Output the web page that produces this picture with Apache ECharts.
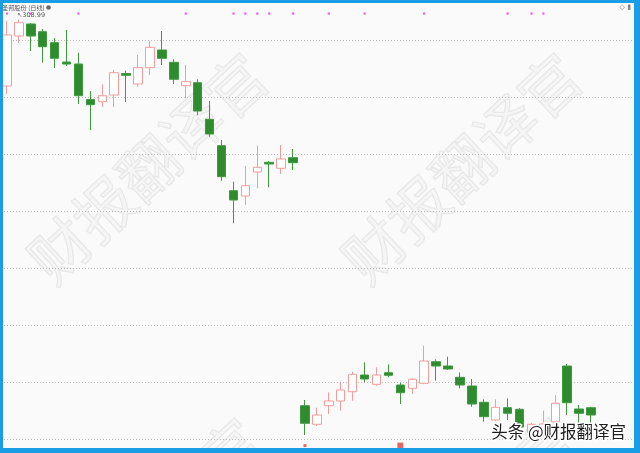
<!DOCTYPE html>
<html><head><meta charset="utf-8">
<script src="https://cdn.jsdelivr.net/npm/echarts@6/dist/echarts.min.js"></script>
<style>html,body{margin:0;padding:0;background:#fafafa}#c{width:640px;height:453px}</style>
</head><body><div id="c"></div>
<script>
// ---- data ----
const days = Array.from({length: 53}, (_, i) => 'D' + (i + 1));
const opens  = [279.82,301.75,307.02,303.64,298.82,290.35,289.47,273.90,272.94,275.88,285.30,280.70,287.85,295.61,290.22,279.96,281.27,265.22,253.64,233.90,231.58,242.11,246.36,243.73,248.38,
                139.61,131.45,139.61,141.67,145.74,153.07,148.99,154.08,148.68,147.23,149.43,158.90,157.02,152.06,148.24,141.09,133.33,138.73,138.03,127.63,128.07,132.59,157.02,138.16,138.73];
const closes = [302.19,307.58,301.75,297.06,291.97,289.47,275.57,271.62,275.57,285.66,284.52,287.85,296.80,291.97,282.76,281.71,268.86,258.77,240.04,229.82,236.09,244.17,245.61,247.81,246.18,
                131.89,135.53,141.67,146.49,153.37,151.31,153.07,152.93,145.30,151.18,159.21,157.02,155.70,148.68,140.35,134.78,138.91,136.27,130.26,131.45,131.58,140.66,140.92,136.27,135.53];
const lows   = [276.31,298.68,295.17,290.05,287.72,288.60,271.93,260.53,270.61,270.61,272.81,279.52,284.65,289.03,280.70,274.43,267.11,257.59,238.29,219.61,227.63,234.96,235.39,241.23,242.98,
                126.75,130.70,135.96,137.41,141.80,149.87,148.37,152.06,140.35,144.74,148.99,150.57,155.26,147.23,139.16,132.59,133.03,133.33,128.95,126.32,125.88,130.26,135.53,131.89,131.89];
const highs  = [308.33,308.99,307.45,304.82,300.88,304.39,294.43,277.63,280.57,286.84,286.53,293.42,299.69,303.95,291.53,289.03,282.76,273.25,256.14,237.85,244.74,253.64,246.93,253.95,252.19,
                142.11,138.73,145.48,150.13,154.51,158.64,156.45,157.76,149.69,151.62,165.92,159.95,161.10,154.25,151.31,142.41,142.41,142.85,138.60,132.02,137.41,144.30,157.89,139.91,139.16];
const eventDays = [0,2,6,15,19,20,21,22,24,27,30,35,42,44,45];
const bottomMarkDays = [25,33];
const yTicks = {min: 125, max: 312.5, step: 25};
const titleText = '圣邦股份 (日线)';
const peakLabel = '308.99';
const watermarkText = '财报翻译官';
const signText = '头条 @财报翻译官';

// ---- chart ----
const kData = opens.map((o, i) => [o, closes[i], lows[i], highs[i]]);
const chart = echarts.init(document.getElementById('c'), null, {renderer: 'canvas'});
const wmFont = '60px "Noto Sans CJK SC", sans-serif';
const rot = 43 * Math.PI / 180;
function wm(x, y) {
  return {type: 'text', x: x, y: y, rotation: rot, z: 0, silent: true,
    style: {text: watermarkText, x: 0, y: 0, align: 'center', verticalAlign: 'middle', font: wmFont,
      fill: 'rgba(235,235,235,0.35)', stroke: 'rgba(195,195,195,0.35)', lineWidth: 1.2}};
}
const blue = '#1b9de6';
chart.setOption({
  backgroundColor: '#fafafa',
  animation: false,
  grid: {left: 1, right: 7.2, top: 11.5, height: 427.5},
  xAxis: {type: 'category', data: days, show: true, boundaryGap: true,
    axisLine: {show: false}, axisTick: {show: false}, axisLabel: {show: false}, splitLine: {show: false}},
  yAxis: {type: 'value', min: yTicks.min, max: yTicks.max, interval: yTicks.step, scale: true,
    axisLine: {show: false}, axisTick: {show: false}, axisLabel: {show: false},
    splitLine: {show: true, showMaxLine: false, showMinLine: true, lineStyle: {type: [1, 2], color: '#bdbdbd', width: 1}}},
  graphic: [
    wm(148, 168), wm(462, 168), wm(143, 533), wm(457, 533),
    {type: 'text', x: 2, y: 7.5, z: 50, style: {text: titleText, font: '6.2px "Noto Sans CJK SC", sans-serif', fill: '#555', verticalAlign: 'middle'}},
    {type: 'circle', shape: {cx: 48.5, cy: 7.5, r: 2.3}, z: 50, style: {fill: '#666'}},
    {type: 'text', x: 631, y: 7.5, z: 50, style: {text: '◇ ▮', font: '7px "DejaVu Sans", sans-serif', fill: '#888', align: 'right', verticalAlign: 'middle'}},
    {type: 'text', x: 626, y: 432, z: 60, style: {text: signText, font: '16.5px "Noto Sans CJK SC", sans-serif', fill: '#1e1e1e',
      stroke: '#ffffff', lineWidth: 3, align: 'right', verticalAlign: 'middle'}},
    {type: 'rect', shape: {x: 0, y: 0, width: 640, height: 3}, z: 100, style: {fill: blue}},
    {type: 'rect', shape: {x: 0, y: 0, width: 3, height: 453}, z: 100, style: {fill: blue}},
    {type: 'rect', shape: {x: 634, y: 0, width: 6, height: 453}, z: 100, style: {fill: blue}},
    {type: 'rect', shape: {x: 0, y: 448, width: 640, height: 5}, z: 100, style: {fill: blue}}
  ],
  series: [
    {type: 'candlestick', data: kData, barWidth: 9, z: 5,
      itemStyle: {color: 'rgba(255,255,255,0.9)', color0: '#2e8b2e', borderColor: '#f49b9b', borderColor0: '#3f9a3f', borderWidth: 1},
      markPoint: {symbol: 'circle', symbolSize: 0, silent: true,
        data: [{coord: [1, highs[1]], value: peakLabel}],
        label: {show: true, formatter: '↖' + peakLabel, position: 'inside', align: 'left', verticalAlign: 'middle',
          offset: [-2, -4], fontSize: 6.5, color: '#555', fontFamily: '"DejaVu Sans", sans-serif'}}},
    {type: 'scatter', data: eventDays.map(i => [i, 311.6]), symbol: 'rect', symbolSize: 2.2, z: 6,
      itemStyle: {color: '#e23be2'}, silent: true},
    {type: 'scatter', data: bottomMarkDays.map((i, k) => [i, 122.1]), clip: false, z: 6, silent: true,
      symbol: 'rect', symbolSize: (v, p) => p.dataIndex === 0 ? 3 : 6,
      itemStyle: {color: '#d94545'}}
  ]
});
</script></body></html>
